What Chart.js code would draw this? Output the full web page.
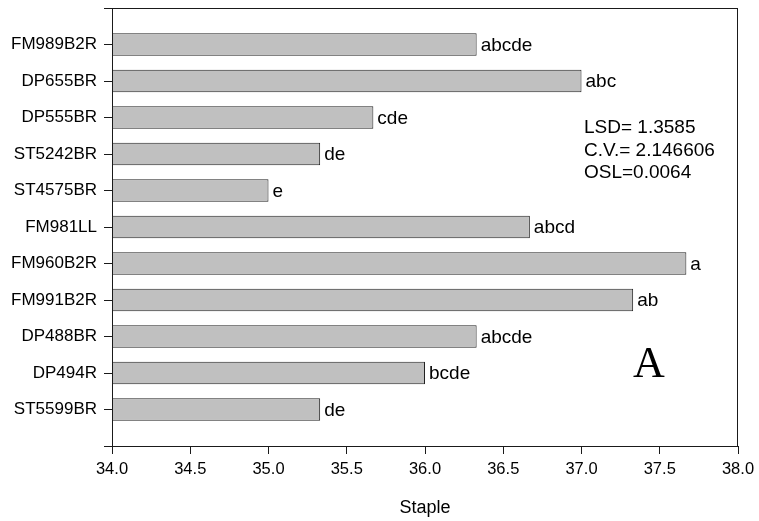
<!DOCTYPE html>
<html>
<head>
<meta charset="utf-8">
<script src="https://cdn.jsdelivr.net/npm/chart.js@4.4.1/dist/chart.umd.min.js"></script>
<style>
  html, body { margin: 0; padding: 0; background: #fff; }
  #wrap { width: 759px; height: 521px; }
</style>
</head>
<body>
<div id="wrap"><canvas id="chart" width="759" height="521"></canvas></div>
<script>
// top to bottom, as in the picture
const varieties = ['FM989B2R', 'DP655BR', 'DP555BR', 'ST5242BR', 'ST4575BR', 'FM981LL',
  'FM960B2R', 'FM991B2R', 'DP488BR', 'DP494R', 'ST5599BR']
const stapleValues = [36.33, 37.0, 35.67, 35.33, 35.0, 36.67, 37.67, 37.33, 36.33, 36.0, 35.33]
const groupLetters = ['abcde', 'abc', 'cde', 'de', 'e', 'abcd', 'a', 'ab', 'abcde', 'bcde', 'de']
const statLines = ['LSD= 1.3585', 'C.V.= 2.146606', 'OSL=0.0064']
const panelLetter = 'A'
const xTicks = [34.0, 34.5, 35.0, 35.5, 36.0, 36.5, 37.0, 37.5, 38.0]

// blank slots above and below give the half-step margins of the original axis
const labels = ['', ...varieties, '']
const values = [null, ...stapleValues, null]
const letters = ['', ...groupLetters, '']

const axisColor = '#1a1a1a'
const sans = 'Arial, "Liberation Sans", sans-serif'

const boxPlugin = {
  id: 'box',
  afterDatasetsDraw(chart) {
    const { ctx, chartArea } = chart
    const meta = chart.getDatasetMeta(0)
    ctx.save()
    ctx.font = `19px ${sans}`
    ctx.fillStyle = '#000'
    ctx.textAlign = 'left'
    ctx.textBaseline = 'middle'
    meta.data.forEach((bar, i) => {
      if (!letters[i] || values[i] == null) return
      ctx.fillText(letters[i], bar.x + 4, bar.y + 1)
    })

    statLines.forEach((line, i) => {
      ctx.fillText(line, chartArea.left + 472, chartArea.top + 120 + i * 22.5)
    })

    ctx.font = '44px "Times New Roman", "Liberation Serif", serif'
    ctx.textAlign = 'center'
    ctx.textBaseline = 'alphabetic'
    ctx.fillText(panelLetter, chartArea.left + 537, chartArea.top + 369)

    ctx.strokeStyle = axisColor
    ctx.lineWidth = 1
    ctx.strokeRect(chartArea.left + 0.5, chartArea.top + 0.5,
      chartArea.right - chartArea.left - 1, chartArea.bottom - chartArea.top)
    ctx.restore()
  }
}

new Chart(document.getElementById('chart'), {
  type: 'bar',
  data: {
    labels,
    datasets: [{
      data: values,
      backgroundColor: '#c0c0c0',
      borderColor: '#222',
      borderWidth: 1,
      borderSkipped: false,
      barPercentage: 0.62,
      categoryPercentage: 1.0
    }]
  },
  plugins: [boxPlugin],
  options: {
    indexAxis: 'y',
    responsive: false,
    animation: false,
    layout: { padding: { top: 8, right: 21, bottom: 0, left: 0 } },
    plugins: {
      legend: { display: false },
      tooltip: { enabled: false }
    },
    scales: {
      x: {
        type: 'linear',
        min: 34,
        max: 38,
        afterBuildTicks: (scale) => {
          scale.ticks = xTicks.map((value) => ({ value }))
        },
        afterFit: (scale) => {
          scale.height = 75
          scale.paddingLeft = 0
          scale.paddingRight = 0
        },
        border: { display: true, color: axisColor, width: 1 },
        grid: { drawOnChartArea: false, color: axisColor, tickLength: 8 },
        ticks: {
          color: '#000',
          padding: 6,
          maxRotation: 0,
          font: { family: sans, size: 16.5 },
          callback: (value) => Number(value).toFixed(1)
        },
        title: {
          display: true,
          text: 'Staple',
          color: '#000',
          padding: { top: 0, bottom: 2 },
          font: { family: sans, size: 18 }
        }
      },
      y: {
        type: 'category',
        offset: false,
        afterFit: (scale) => {
          scale.width = 112
          scale.paddingTop = 0
          scale.paddingBottom = 0
        },
        border: { display: true, color: axisColor, width: 1 },
        grid: { drawOnChartArea: false, color: axisColor, tickLength: 8, offset: false },
        ticks: {
          color: '#000',
          padding: 7,
          autoSkip: false,
          font: { family: sans, size: 17 }
        }
      }
    }
  }
})
</script>
</body>
</html>
